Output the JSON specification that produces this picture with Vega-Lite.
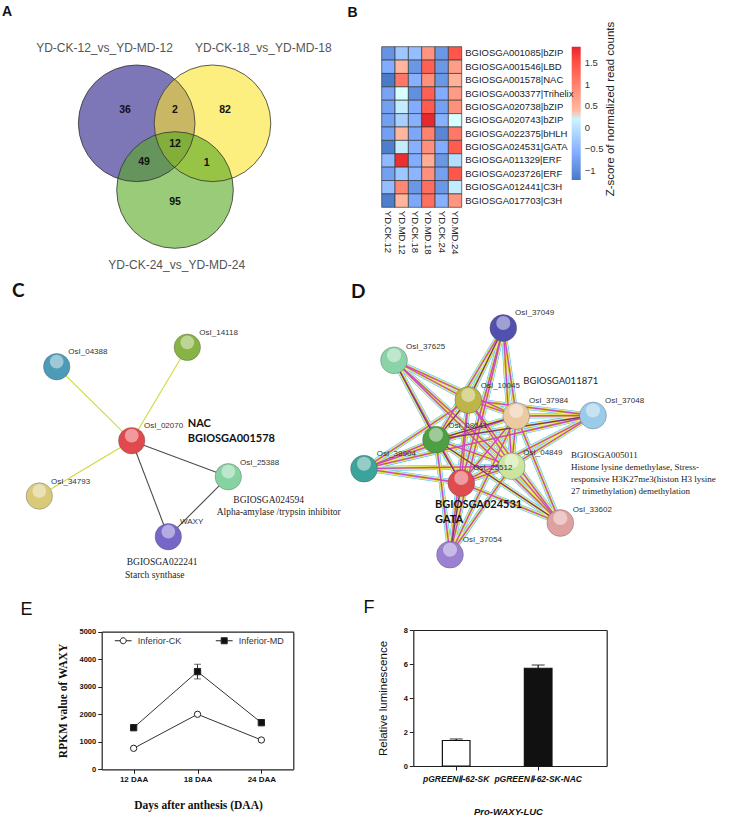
{
"$schema":"https://vega.github.io/schema/vega-lite/v6.json",
"padding":0,
"background":"white",
"bounds":"flush",
"spacing":0,
"columns":2,
"align":"none",
"resolve":{"scale":{"fill":"independent","color":"independent","shape":"independent","x":"independent","y":"independent"}},
"config":{"view":{"stroke":null},"font":"Liberation Sans","axis":{"grid":false,"domainColor":"#222","tickColor":"#222","labelColor":"#111","titleColor":"#111"},"title":{"baseline":"top","anchor":"start","frame":"group","color":"#111"}},
"datasets":{
"venn":[{"set":"YD-CK-12_vs_YD-MD-12","x":136.7,"y":123.3},{"set":"YD-CK-18_vs_YD-MD-18","x":212.5,"y":123.3},{"set":"YD-CK-24_vs_YD-MD-24","x":175,"y":190}],
"vennlabels":[{"label":"YD-CK-12_vs_YD-MD-12","kind":"set","x":104.5,"y":48.3},{"label":"YD-CK-18_vs_YD-MD-18","kind":"set","x":263.3,"y":48.3},{"label":"YD-CK-24_vs_YD-MD-24","kind":"set","x":176.7,"y":265},{"label":"36","kind":"count","x":125,"y":110},{"label":"2","kind":"count","x":175,"y":110},{"label":"82","kind":"count","x":225,"y":110},{"label":"12","kind":"count","x":175,"y":144},{"label":"49","kind":"count","x":144,"y":162.3},{"label":"1","kind":"count","x":206.7,"y":163.3},{"label":"95","kind":"count","x":175,"y":201.7}],
"heat":[
{"gene":"BGIOSGA001085|bZIP","sample":"YD.CK.12","z":-0.9},{"gene":"BGIOSGA001085|bZIP","sample":"YD.MD.12","z":-0.3},{"gene":"BGIOSGA001085|bZIP","sample":"YD.CK.18","z":-0.4},{"gene":"BGIOSGA001085|bZIP","sample":"YD.MD.18","z":0.8},{"gene":"BGIOSGA001085|bZIP","sample":"YD.CK.24","z":-0.85},{"gene":"BGIOSGA001085|bZIP","sample":"YD.MD.24","z":1.45},
{"gene":"BGIOSGA001546|LBD","sample":"YD.CK.12","z":-0.6},{"gene":"BGIOSGA001546|LBD","sample":"YD.MD.12","z":0.45},{"gene":"BGIOSGA001546|LBD","sample":"YD.CK.18","z":-0.85},{"gene":"BGIOSGA001546|LBD","sample":"YD.MD.18","z":1.35},{"gene":"BGIOSGA001546|LBD","sample":"YD.CK.24","z":-0.85},{"gene":"BGIOSGA001546|LBD","sample":"YD.MD.24","z":0.7},
{"gene":"BGIOSGA001578|NAC","sample":"YD.CK.12","z":-1.2},{"gene":"BGIOSGA001578|NAC","sample":"YD.MD.12","z":1.1},{"gene":"BGIOSGA001578|NAC","sample":"YD.CK.18","z":-0.55},{"gene":"BGIOSGA001578|NAC","sample":"YD.MD.18","z":0.85},{"gene":"BGIOSGA001578|NAC","sample":"YD.CK.24","z":-0.85},{"gene":"BGIOSGA001578|NAC","sample":"YD.MD.24","z":0.5},
{"gene":"BGIOSGA003377|Trihelix","sample":"YD.CK.12","z":-0.7},{"gene":"BGIOSGA003377|Trihelix","sample":"YD.MD.12","z":0.32},{"gene":"BGIOSGA003377|Trihelix","sample":"YD.CK.18","z":-0.95},{"gene":"BGIOSGA003377|Trihelix","sample":"YD.MD.18","z":1.35},{"gene":"BGIOSGA003377|Trihelix","sample":"YD.CK.24","z":-0.6},{"gene":"BGIOSGA003377|Trihelix","sample":"YD.MD.24","z":0.75},
{"gene":"BGIOSGA020738|bZIP","sample":"YD.CK.12","z":-0.75},{"gene":"BGIOSGA020738|bZIP","sample":"YD.MD.12","z":0.12},{"gene":"BGIOSGA020738|bZIP","sample":"YD.CK.18","z":-0.6},{"gene":"BGIOSGA020738|bZIP","sample":"YD.MD.18","z":1.4},{"gene":"BGIOSGA020738|bZIP","sample":"YD.CK.24","z":-0.75},{"gene":"BGIOSGA020738|bZIP","sample":"YD.MD.24","z":0.85},
{"gene":"BGIOSGA020743|bZIP","sample":"YD.CK.12","z":-0.75},{"gene":"BGIOSGA020743|bZIP","sample":"YD.MD.12","z":-0.2},{"gene":"BGIOSGA020743|bZIP","sample":"YD.CK.18","z":-0.55},{"gene":"BGIOSGA020743|bZIP","sample":"YD.MD.18","z":1.85},{"gene":"BGIOSGA020743|bZIP","sample":"YD.CK.24","z":-0.55},{"gene":"BGIOSGA020743|bZIP","sample":"YD.MD.24","z":0.32},
{"gene":"BGIOSGA022375|bHLH","sample":"YD.CK.12","z":-0.75},{"gene":"BGIOSGA022375|bHLH","sample":"YD.MD.12","z":0.45},{"gene":"BGIOSGA022375|bHLH","sample":"YD.CK.18","z":-0.65},{"gene":"BGIOSGA022375|bHLH","sample":"YD.MD.18","z":1.0},{"gene":"BGIOSGA022375|bHLH","sample":"YD.CK.24","z":-1.05},{"gene":"BGIOSGA022375|bHLH","sample":"YD.MD.24","z":1.1},
{"gene":"BGIOSGA024531|GATA","sample":"YD.CK.12","z":-1.15},{"gene":"BGIOSGA024531|GATA","sample":"YD.MD.12","z":0.12},{"gene":"BGIOSGA024531|GATA","sample":"YD.CK.18","z":-0.55},{"gene":"BGIOSGA024531|GATA","sample":"YD.MD.18","z":0.85},{"gene":"BGIOSGA024531|GATA","sample":"YD.CK.24","z":-0.6},{"gene":"BGIOSGA024531|GATA","sample":"YD.MD.24","z":1.4},
{"gene":"BGIOSGA011329|ERF","sample":"YD.CK.12","z":-0.45},{"gene":"BGIOSGA011329|ERF","sample":"YD.MD.12","z":1.8},{"gene":"BGIOSGA011329|ERF","sample":"YD.CK.18","z":-0.6},{"gene":"BGIOSGA011329|ERF","sample":"YD.MD.18","z":0.55},{"gene":"BGIOSGA011329|ERF","sample":"YD.CK.24","z":-0.85},{"gene":"BGIOSGA011329|ERF","sample":"YD.MD.24","z":-0.05},
{"gene":"BGIOSGA023726|ERF","sample":"YD.CK.12","z":-0.75},{"gene":"BGIOSGA023726|ERF","sample":"YD.MD.12","z":-0.3},{"gene":"BGIOSGA023726|ERF","sample":"YD.CK.18","z":-0.5},{"gene":"BGIOSGA023726|ERF","sample":"YD.MD.18","z":0.85},{"gene":"BGIOSGA023726|ERF","sample":"YD.CK.24","z":-0.75},{"gene":"BGIOSGA023726|ERF","sample":"YD.MD.24","z":1.45},
{"gene":"BGIOSGA012441|C3H","sample":"YD.CK.12","z":-0.4},{"gene":"BGIOSGA012441|C3H","sample":"YD.MD.12","z":0.95},{"gene":"BGIOSGA012441|C3H","sample":"YD.CK.18","z":-0.85},{"gene":"BGIOSGA012441|C3H","sample":"YD.MD.18","z":1.2},{"gene":"BGIOSGA012441|C3H","sample":"YD.CK.24","z":-0.85},{"gene":"BGIOSGA012441|C3H","sample":"YD.MD.24","z":0.1},
{"gene":"BGIOSGA017703|C3H","sample":"YD.CK.12","z":-1.15},{"gene":"BGIOSGA017703|C3H","sample":"YD.MD.12","z":0.45},{"gene":"BGIOSGA017703|C3H","sample":"YD.CK.18","z":-0.65},{"gene":"BGIOSGA017703|C3H","sample":"YD.MD.18","z":1.2},{"gene":"BGIOSGA017703|C3H","sample":"YD.CK.24","z":-0.55},{"gene":"BGIOSGA017703|C3H","sample":"YD.MD.24","z":0.8}
],
"cnodes":[{"node":"OsI_04388","x":56.7,"y":88.7},{"node":"OsI_14118","x":187.3,"y":69.3},{"node":"OsI_02070","x":131.7,"y":162.7},{"node":"OsI_34793","x":39.3,"y":218},{"node":"OsI_25388","x":228.3,"y":198.7},{"node":"WAXY","x":168.3,"y":258.7}],
"cedges":[{"source":"OsI_04388","target":"OsI_02070","evidence":"textmining"},{"source":"OsI_14118","target":"OsI_02070","evidence":"textmining"},{"source":"OsI_34793","target":"OsI_02070","evidence":"textmining"},{"source":"OsI_02070","target":"OsI_25388","evidence":"coexpression"},{"source":"OsI_02070","target":"WAXY","evidence":"coexpression"},{"source":"OsI_25388","target":"WAXY","evidence":"coexpression"}],
"clabels":[{"text":"OsI_04388","kind":"node","x":68.3,"y":73.7},{"text":"OsI_14118","kind":"node","x":199.3,"y":55.3},{"text":"OsI_02070","kind":"node","x":144,"y":147.7},{"text":"OsI_25388","kind":"node","x":240,"y":185.3},{"text":"OsI_34793","kind":"node","x":51,"y":204.3},{"text":"WAXY","kind":"node","x":180,"y":244.3},{"text":"NAC","kind":"bold","x":187.7,"y":146},{"text":"BGIOSGA001578","kind":"bold","x":187.7,"y":161},{"text":"BGIOSGA024594","kind":"serif","x":233.3,"y":222},{"text":"Alpha-amylase /trypsin inhibitor","kind":"serif","x":216.7,"y":233.7},{"text":"BGIOSGA022241","kind":"serif","x":126.7,"y":284.3},{"text":"Starch synthase","kind":"serif","x":125,"y":296.5}],
"dnodes":[{"node":"OsI_37049","x":163.3,"y":50},{"node":"OsI_37625","x":54,"y":82.3},{"node":"OsI_10045","x":128.3,"y":122},{"node":"OsI_37984","x":176.3,"y":138},{"node":"OsI_37048","x":253,"y":137.5},{"node":"OsI_08641","x":96,"y":161.7},{"node":"OsI_38904","x":24,"y":190.7},{"node":"OsI_04849","x":171.7,"y":188.2},{"node":"OsI_25512","x":121.3,"y":205},{"node":"OsI_33602","x":220.3,"y":245},{"node":"OsI_37054","x":110,"y":276.7}],
"dedges":[
{"source":"OsI_10045","target":"OsI_37984","coexp":false},{"source":"OsI_10045","target":"OsI_08641","coexp":true},{"source":"OsI_10045","target":"OsI_04849","coexp":false},{"source":"OsI_10045","target":"OsI_25512","coexp":false},{"source":"OsI_37984","target":"OsI_08641","coexp":true},{"source":"OsI_37984","target":"OsI_04849","coexp":false},{"source":"OsI_37984","target":"OsI_25512","coexp":false},{"source":"OsI_08641","target":"OsI_04849","coexp":false},{"source":"OsI_08641","target":"OsI_25512","coexp":true},{"source":"OsI_04849","target":"OsI_25512","coexp":false},
{"source":"OsI_37049","target":"OsI_10045","coexp":true},{"source":"OsI_37049","target":"OsI_37984","coexp":false},{"source":"OsI_37049","target":"OsI_08641","coexp":false},{"source":"OsI_37049","target":"OsI_04849","coexp":false},{"source":"OsI_37049","target":"OsI_25512","coexp":false},
{"source":"OsI_37625","target":"OsI_10045","coexp":false},{"source":"OsI_37625","target":"OsI_37984","coexp":false},{"source":"OsI_37625","target":"OsI_08641","coexp":true},{"source":"OsI_37625","target":"OsI_04849","coexp":false},{"source":"OsI_37625","target":"OsI_25512","coexp":false},
{"source":"OsI_37048","target":"OsI_10045","coexp":false},{"source":"OsI_37048","target":"OsI_37984","coexp":false},{"source":"OsI_37048","target":"OsI_08641","coexp":true},{"source":"OsI_37048","target":"OsI_04849","coexp":false},{"source":"OsI_37048","target":"OsI_25512","coexp":false},
{"source":"OsI_38904","target":"OsI_10045","coexp":false},{"source":"OsI_38904","target":"OsI_37984","coexp":false},{"source":"OsI_38904","target":"OsI_08641","coexp":false},{"source":"OsI_38904","target":"OsI_04849","coexp":false},{"source":"OsI_38904","target":"OsI_25512","coexp":false},
{"source":"OsI_33602","target":"OsI_10045","coexp":false},{"source":"OsI_33602","target":"OsI_37984","coexp":false},{"source":"OsI_33602","target":"OsI_08641","coexp":true},{"source":"OsI_33602","target":"OsI_04849","coexp":false},{"source":"OsI_33602","target":"OsI_25512","coexp":false},
{"source":"OsI_37054","target":"OsI_10045","coexp":false},{"source":"OsI_37054","target":"OsI_37984","coexp":false},{"source":"OsI_37054","target":"OsI_08641","coexp":false},{"source":"OsI_37054","target":"OsI_04849","coexp":false},{"source":"OsI_37054","target":"OsI_25512","coexp":true},
{"source":"OsI_37625","target":"OsI_33602","coexp":false},{"source":"OsI_37049","target":"OsI_37054","coexp":false},{"source":"OsI_38904","target":"OsI_37048","coexp":false}
],
"dlabels":[{"text":"OsI_37049","kind":"node","x":175,"y":34.7},{"text":"OsI_37625","kind":"node","x":66,"y":68.7},{"text":"OsI_10045","kind":"node","x":140.7,"y":107.7},{"text":"OsI_37984","kind":"node","x":189,"y":123},{"text":"OsI_37048","kind":"node","x":265,"y":123},{"text":"OsI_08641","kind":"node","x":108.3,"y":147.7},{"text":"OsI_38904","kind":"node","x":36.7,"y":176.3},{"text":"OsI_04849","kind":"node","x":183.3,"y":175.3},{"text":"OsI_25512","kind":"node","x":133.3,"y":190.3},{"text":"OsI_33602","kind":"node","x":232.7,"y":232},{"text":"OsI_37054","kind":"node","x":122.7,"y":262},{"text":"BGIOSGA011871","kind":"plain","x":183.3,"y":102.7},{"text":"BGIOSGA024531","kind":"bold","x":95,"y":227},{"text":"GATA","kind":"bold","x":95,"y":242},{"text":"BGIOSGA005011","kind":"serif","x":231,"y":177},{"text":"Histone lysine demethylase, Stress-","kind":"serif","x":231,"y":189},{"text":"responsive H3K27me3(histon H3  lysine","kind":"serif","x":231,"y":201},{"text":"27 trimethylation) demethylation","kind":"serif","x":231,"y":213}],
"edata":[{"series":"Inferior-CK","day":"12 DAA","value":763},{"series":"Inferior-CK","day":"18 DAA","value":1999},{"series":"Inferior-CK","day":"24 DAA","value":1065},{"series":"Inferior-MD","day":"12 DAA","value":1512},{"series":"Inferior-MD","day":"18 DAA","value":3550,"lo":3283,"hi":3817},{"series":"Inferior-MD","day":"24 DAA","value":1694}],
"fdata":[{"construct":"pGREENⅡ-62-SK","value":1.5,"hi":1.59},{"construct":"pGREENⅡ-62-SK-NAC","value":5.75,"hi":5.94}]
},
"concat":[
{"width":360,"height":278,
 "title":{"text":"A","offset":-19,"dx":2,"fontSize":14,"fontWeight":"bold"},
 "layer":[
  {"data":{"name":"venn"},"mark":{"type":"point","filled":true,"size":13600,"opacity":0.6,"strokeWidth":0},
   "encoding":{"x":{"field":"x","type":"quantitative","scale":{"domain":[0,360],"nice":false,"zero":false},"axis":null},
    "y":{"field":"y","type":"quantitative","scale":{"domain":[0,278],"nice":false,"zero":false,"reverse":true},"axis":null},
    "color":{"field":"set","type":"nominal","scale":{"domain":["YD-CK-12_vs_YD-MD-12","YD-CK-18_vs_YD-MD-18","YD-CK-24_vs_YD-MD-24"],"range":["#261B87","#FCE32B","#55A820"]},"legend":null}}},
  {"data":{"name":"venn"},"mark":{"type":"point","filled":false,"size":13600,"opacity":1,"color":"#333333","strokeWidth":0.8},
   "encoding":{"x":{"field":"x","type":"quantitative","axis":null},"y":{"field":"y","type":"quantitative","axis":null}}},
  {"data":{"name":"vennlabels"},"transform":[{"filter":"datum.kind == 'set'"}],"mark":{"type":"text","fontSize":12,"color":"#555555","baseline":"middle","font":"Liberation Sans"},
   "encoding":{"x":{"field":"x","type":"quantitative","axis":null},"y":{"field":"y","type":"quantitative","axis":null},"text":{"field":"label"}}},
  {"data":{"name":"vennlabels"},"transform":[{"filter":"datum.kind == 'count'"}],"mark":{"type":"text","fontSize":10.5,"fontWeight":"bold","color":"#111111","baseline":"middle"},
   "encoding":{"x":{"field":"x","type":"quantitative","axis":null},"y":{"field":"y","type":"quantitative","axis":null},"text":{"field":"label"}}}
 ]},
{"width":369,"height":278,
 "title":{"text":"B","offset":-20,"dx":-12.5,"fontSize":14,"fontWeight":"bold"},
 "data":{"name":"heat"},
 "mark":{"type":"rect","stroke":"#3a3a3a","strokeWidth":0.7},
 "encoding":{
  "x":{"field":"sample","type":"nominal","sort":["YD.CK.12","YD.MD.12","YD.CK.18","YD.MD.18","YD.CK.24","YD.MD.24"],"scale":{"range":[21.7,101.7],"paddingInner":0,"paddingOuter":0},
   "axis":{"orient":"bottom","offset":-70.7,"labelAngle":90,"ticks":false,"domain":false,"labelPadding":3,"labelFontSize":9.5,"labelColor":"#222","title":null}},
  "y":{"field":"gene","type":"nominal","sort":["BGIOSGA001085|bZIP","BGIOSGA001546|LBD","BGIOSGA001578|NAC","BGIOSGA003377|Trihelix","BGIOSGA020738|bZIP","BGIOSGA020743|bZIP","BGIOSGA022375|bHLH","BGIOSGA024531|GATA","BGIOSGA011329|ERF","BGIOSGA023726|ERF","BGIOSGA012441|C3H","BGIOSGA017703|C3H"],"scale":{"range":[46.7,207.3],"paddingInner":0,"paddingOuter":0},
   "axis":{"orient":"right","offset":-267.3,"ticks":false,"domain":false,"labelPadding":3,"labelFontSize":9.5,"labelColor":"#222",
    "title":"Z-score of normalized read counts","titleX":148.3,"titleY":108.5,"titleAngle":270,"titleBaseline":"middle","titleAlign":"center","titleFontSize":11.5,"titleFontWeight":"normal","titleColor":"#222","titleFont":"Liberation Sans"}},
  "color":{"field":"z","type":"quantitative","scale":{"domain":[-1.216,0.335,1.886],"range":["#4979C6","#FFFFFF","#E1252B"]},
   "legend":{"type":"gradient","orient":"none","legendX":211.7,"legendY":46.7,"direction":"vertical","gradientLength":133.3,"gradientThickness":9,"gradientStrokeWidth":0,"values":[-1,-0.5,0,0.5,1,1.5],"format":".1~f","labelFontSize":9.5,"labelColor":"#333","labelOffset":4,"title":null}}
 }},
{"width":360,"height":297,
 "title":{"text":"C","offset":-22.6,"dx":12,"fontSize":19,"fontWeight":"bold","font":"Lato"},
 "layer":[
  {"data":{"name":"cedges"},"transform":[{"lookup":"source","from":{"data":{"name":"cnodes"},"key":"node","fields":["x","y"]},"as":["x","y"]},{"lookup":"target","from":{"data":{"name":"cnodes"},"key":"node","fields":["x","y"]},"as":["x2","y2"]}],
   "mark":{"type":"rule","strokeWidth":1.1},
   "encoding":{"x":{"field":"x","type":"quantitative","scale":{"domain":[0,360],"nice":false,"zero":false},"axis":null},"y":{"field":"y","type":"quantitative","scale":{"domain":[0,297],"nice":false,"zero":false,"reverse":true},"axis":null},"x2":{"field":"x2"},"y2":{"field":"y2"},
    "color":{"field":"evidence","type":"nominal","scale":{"domain":["textmining","coexpression"],"range":["#D2D83A","#4d4d4d"]},"legend":null}}},
  {"data":{"name":"cnodes"},"mark":{"type":"point","filled":true,"size":700,"opacity":1,"stroke":"#555555","strokeWidth":0.6,"strokeOpacity":0.6},
   "encoding":{"x":{"field":"x","type":"quantitative","axis":null},"y":{"field":"y","type":"quantitative","axis":null},
    "fill":{"field":"node","type":"nominal","scale":{"domain":["OsI_04388","OsI_14118","OsI_02070","OsI_34793","OsI_25388","WAXY"],"range":["#4C9CB8","#86B343","#E2494E","#D9CA7A","#86D3A2","#7666C8"]},"legend":null}}},
  {"data":{"name":"cnodes"},"mark":{"type":"point","filled":true,"size":190,"color":"#ffffff","opacity":0.45,"yOffset":-5,"strokeWidth":0},
   "encoding":{"x":{"field":"x","type":"quantitative","axis":null},"y":{"field":"y","type":"quantitative","axis":null}}},
  {"data":{"name":"clabels"},"transform":[{"filter":"datum.kind == 'node'"}],"mark":{"type":"text","align":"left","baseline":"middle","fontSize":8,"color":"#333","font":"Liberation Sans"},
   "encoding":{"x":{"field":"x","type":"quantitative","axis":null},"y":{"field":"y","type":"quantitative","axis":null},"text":{"field":"text"}}},
  {"data":{"name":"clabels"},"transform":[{"filter":"datum.kind == 'bold'"}],"mark":{"type":"text","align":"left","baseline":"middle","fontSize":11,"fontWeight":"bold","color":"#111","font":"Lato"},
   "encoding":{"x":{"field":"x","type":"quantitative","axis":null},"y":{"field":"y","type":"quantitative","axis":null},"text":{"field":"text"}}},
  {"data":{"name":"clabels"},"transform":[{"filter":"datum.kind == 'serif'"}],"mark":{"type":"text","align":"left","baseline":"middle","fontSize":9.5,"color":"#222","font":"Liberation Serif"},
   "encoding":{"x":{"field":"x","type":"quantitative","axis":null},"y":{"field":"y","type":"quantitative","axis":null},"text":{"field":"text"}}}
 ]},
{"width":369,"height":297,
 "title":{"text":"D","offset":-23.6,"dx":-9,"fontSize":19,"fontWeight":"bold","font":"Lato"},
 "layer":[
  {"data":{"name":"dedges"},"transform":[{"lookup":"source","from":{"data":{"name":"dnodes"},"key":"node","fields":["x","y"]},"as":["x","y"]},{"lookup":"target","from":{"data":{"name":"dnodes"},"key":"node","fields":["x","y"]},"as":["x2","y2"]}],
   "mark":{"type":"rule","color":"#3DBDE8","strokeWidth":5.0},
   "encoding":{"x":{"field":"x","type":"quantitative","scale":{"domain":[20,389],"nice":false,"zero":false},"axis":null},"y":{"field":"y","type":"quantitative","scale":{"domain":[0,297],"nice":false,"zero":false,"reverse":true},"axis":null},"x2":{"field":"x2"},"y2":{"field":"y2"}}},
  {"data":{"name":"dedges"},"transform":[{"lookup":"source","from":{"data":{"name":"dnodes"},"key":"node","fields":["x","y"]},"as":["x","y"]},{"lookup":"target","from":{"data":{"name":"dnodes"},"key":"node","fields":["x","y"]},"as":["x2","y2"]}],
   "mark":{"type":"rule","color":"#ffffff","strokeWidth":3.9,"opacity":0.85},
   "encoding":{"x":{"field":"x","type":"quantitative","axis":null},"y":{"field":"y","type":"quantitative","axis":null},"x2":{"field":"x2"},"y2":{"field":"y2"}}},
  {"data":{"name":"dedges"},"transform":[{"lookup":"source","from":{"data":{"name":"dnodes"},"key":"node","fields":["x","y"]},"as":["x","y"]},{"lookup":"target","from":{"data":{"name":"dnodes"},"key":"node","fields":["x","y"]},"as":["x2","y2"]}],
   "mark":{"type":"rule","color":"#E0E02A","strokeWidth":2.9},
   "encoding":{"x":{"field":"x","type":"quantitative","axis":null},"y":{"field":"y","type":"quantitative","axis":null},"x2":{"field":"x2"},"y2":{"field":"y2"}}},
  {"data":{"name":"dedges"},"transform":[{"lookup":"source","from":{"data":{"name":"dnodes"},"key":"node","fields":["x","y"]},"as":["x","y"]},{"lookup":"target","from":{"data":{"name":"dnodes"},"key":"node","fields":["x","y"]},"as":["x2","y2"]}],
   "mark":{"type":"rule","color":"#C846C8","strokeWidth":1.3},
   "encoding":{"x":{"field":"x","type":"quantitative","axis":null},"y":{"field":"y","type":"quantitative","axis":null},"x2":{"field":"x2"},"y2":{"field":"y2"}}},
  {"data":{"name":"dedges"},"transform":[{"filter":"datum.coexp"},{"lookup":"source","from":{"data":{"name":"dnodes"},"key":"node","fields":["x","y"]},"as":["x","y"]},{"lookup":"target","from":{"data":{"name":"dnodes"},"key":"node","fields":["x","y"]},"as":["x2","y2"]}],
   "mark":{"type":"rule","color":"#333333","strokeWidth":0.7},
   "encoding":{"x":{"field":"x","type":"quantitative","axis":null},"y":{"field":"y","type":"quantitative","axis":null},"x2":{"field":"x2"},"y2":{"field":"y2"}}},
  {"data":{"name":"dnodes"},"mark":{"type":"point","filled":true,"size":720,"opacity":1,"stroke":"#555555","strokeWidth":0.6,"strokeOpacity":0.6},
   "encoding":{"x":{"field":"x","type":"quantitative","axis":null},"y":{"field":"y","type":"quantitative","axis":null},
    "fill":{"field":"node","type":"nominal","scale":{"domain":["OsI_37049","OsI_37625","OsI_10045","OsI_37984","OsI_37048","OsI_08641","OsI_38904","OsI_04849","OsI_25512","OsI_33602","OsI_37054"],"range":["#5150AE","#89D3A7","#BDB547","#EBC9A1","#9ACCEA","#4E9F44","#3CA39B","#CBE5A1","#E04B50","#DFA0A0","#9C81D3"]},"legend":null}}},
  {"data":{"name":"dnodes"},"mark":{"type":"point","filled":true,"size":200,"color":"#ffffff","opacity":0.45,"yOffset":-5,"strokeWidth":0},
   "encoding":{"x":{"field":"x","type":"quantitative","axis":null},"y":{"field":"y","type":"quantitative","axis":null}}},
  {"data":{"name":"dlabels"},"transform":[{"filter":"datum.kind == 'node'"}],"mark":{"type":"text","align":"left","baseline":"middle","fontSize":8,"color":"#333","font":"Liberation Sans"},
   "encoding":{"x":{"field":"x","type":"quantitative","axis":null},"y":{"field":"y","type":"quantitative","axis":null},"text":{"field":"text"}}},
  {"data":{"name":"dlabels"},"transform":[{"filter":"datum.kind == 'plain'"}],"mark":{"type":"text","align":"left","baseline":"middle","fontSize":9.5,"color":"#222","font":"Lato"},
   "encoding":{"x":{"field":"x","type":"quantitative","axis":null},"y":{"field":"y","type":"quantitative","axis":null},"text":{"field":"text"}}},
  {"data":{"name":"dlabels"},"transform":[{"filter":"datum.kind == 'bold'"}],"mark":{"type":"text","align":"left","baseline":"middle","fontSize":11,"fontWeight":"bold","color":"#111","font":"Lato"},
   "encoding":{"x":{"field":"x","type":"quantitative","axis":null},"y":{"field":"y","type":"quantitative","axis":null},"text":{"field":"text"}}},
  {"data":{"name":"dlabels"},"transform":[{"filter":"datum.kind == 'serif'"}],"mark":{"type":"text","align":"left","baseline":"middle","fontSize":9,"color":"#222","font":"Liberation Serif"},
   "encoding":{"x":{"field":"x","type":"quantitative","axis":null},"y":{"field":"y","type":"quantitative","axis":null},"text":{"field":"text"}}}
 ]},
{"width":360,"height":241,
 "title":{"text":"E","offset":-43.7,"dx":20.5,"fontSize":18,"fontWeight":"normal"},
 "data":{"name":"edata"},
 "resolve":{"scale":{"shape":"independent","fill":"independent"},"axis":{"x":"independent","y":"independent"}},
 "layer":[
  {"mark":{"type":"line","color":"#333333","strokeWidth":1},
   "encoding":{"x":{"field":"day","type":"ordinal","scale":{"type":"point","range":[101.7,293.3],"padding":0.5},
     "axis":{"orient":"bottom","offset":-46.7,"title":"Days after anthesis (DAA)","titleFont":"Liberation Serif","titleFontSize":11.5,"titleFontWeight":"bold","titleX":198,"titleY":35.7,"titleBaseline":"middle","titleAlign":"center","labelFont":"Liberation Sans","labelFontSize":8,"labelFontWeight":"bold","labelAngle":0,"tickSize":4,"labelPadding":2,"domainWidth":1.2}},
    "y":{"field":"value","type":"quantitative","scale":{"domain":[0,5000],"range":[194.3,56.7],"nice":false,"zero":true},
     "axis":{"orient":"left","offset":-101.7,"values":[0,1000,2000,3000,4000,5000],"format":"d","title":"RPKM value of WAXY","titleFont":"Liberation Serif","titleFontSize":11.5,"titleFontWeight":"bold","titleX":-38.4,"titleY":125.5,"titleAngle":270,"titleBaseline":"middle","titleAlign":"center","labelFont":"Liberation Sans Narrow, Liberation Sans","labelFontSize":7.5,"labelFontWeight":"bold","tickSize":4,"labelPadding":2,"domainWidth":1.2}},
    "detail":{"field":"series"}}},
  {"transform":[{"filter":"isValid(datum.hi)"}],"mark":{"type":"rule","color":"#333333","strokeWidth":1},
   "encoding":{"x":{"field":"day","type":"ordinal","axis":{"orient":"top","offset":-56.7,"labels":false,"ticks":false,"title":null,"domainWidth":1.2}},
    "y":{"field":"lo","type":"quantitative","axis":{"orient":"right","offset":-66.7,"labels":false,"ticks":false,"title":null,"domainWidth":1.2}},"y2":{"field":"hi"}}},
  {"transform":[{"filter":"isValid(datum.hi)"}],"mark":{"type":"tick","color":"#333333","size":7,"thickness":1},
   "encoding":{"x":{"field":"day","type":"ordinal","axis":null},"y":{"field":"hi","type":"quantitative","axis":null}}},
  {"transform":[{"filter":"isValid(datum.lo)"}],"mark":{"type":"tick","color":"#333333","size":7,"thickness":1},
   "encoding":{"x":{"field":"day","type":"ordinal","axis":null},"y":{"field":"lo","type":"quantitative","axis":null}}},
  {"mark":{"type":"point","filled":true,"opacity":1,"size":40,"stroke":"#222222","strokeWidth":1},
   "encoding":{"x":{"field":"day","type":"ordinal","axis":null},"y":{"field":"value","type":"quantitative","axis":null},
    "shape":{"field":"series","type":"nominal","scale":{"domain":["Inferior-CK","Inferior-MD"],"range":["circle","square"]},"legend":null},
    "fill":{"field":"series","type":"nominal","scale":{"domain":["Inferior-CK","Inferior-MD"],"range":["#ffffff","#111111"]},"legend":null}}},
  {"transform":[{"filter":"false"}],"mark":{"type":"point","filled":true,"opacity":1,"size":36,"stroke":"#222222","strokeWidth":1},
   "encoding":{"x":{"field":"day","type":"ordinal","axis":null},"y":{"field":"value","type":"quantitative","axis":null},
    "shape":{"field":"series","type":"nominal","scale":{"domain":["Inferior-CK","Inferior-MD"],"range":["M-2.8,0L-1,0M1,0L2.8,0M-1,0A1,1,0,1,0,1,0A1,1,0,1,0,-1,0Z","M-2.8,0L-1,0M1,0L2.8,0M-1,-1L1,-1L1,1L-1,1Z"]},
     "legend":{"orient":"none","legendX":118.7,"legendY":61,"direction":"horizontal","title":null,"symbolSize":36,"symbolStrokeColor":"#222","symbolStrokeWidth":1,"symbolOpacity":1,"labelFontSize":9,"labelFont":"Liberation Sans","labelColor":"#333","labelOffset":10,"columnPadding":32,"padding":0,
      "encode":{"symbols":{"update":{"stroke":{"value":"#222222"},"strokeWidth":{"value":1},"strokeOpacity":{"value":1},"opacity":{"value":1}}}}}},
    "fill":{"field":"series","type":"nominal","scale":{"domain":["Inferior-CK","Inferior-MD"],"range":["#ffffff","#111111"]},
     "legend":{"orient":"none","legendX":118.7,"legendY":61,"direction":"horizontal","title":null,"symbolSize":36,"symbolStrokeColor":"#222","symbolStrokeWidth":1,"symbolOpacity":1,"labelFontSize":9,"labelFont":"Liberation Sans","labelColor":"#333","labelOffset":10,"columnPadding":32,"padding":0,
      "encode":{"symbols":{"update":{"stroke":{"value":"#222222"},"strokeWidth":{"value":1},"strokeOpacity":{"value":1},"opacity":{"value":1}}}}}}}}
 ]},
{"width":369,"height":241,
 "title":{"text":"F","offset":-41.7,"dx":3.5,"fontSize":18,"fontWeight":"normal"},
 "data":{"name":"fdata"},
 "resolve":{"axis":{"x":"independent","y":"independent"}},
 "layer":[
  {"mark":{"type":"bar","stroke":"#111111","strokeWidth":1.2},
   "encoding":{"x":{"field":"construct","type":"nominal","sort":null,"scale":{"range":[53.3,246.7],"paddingInner":0.663,"paddingOuter":0.511,"align":0.347},
     "axis":{"orient":"bottom","offset":-50,"title":"Pro-WAXY-LUC","titleFont":"Liberation Sans","titleFontSize":9.5,"titleFontWeight":"bold","titleFontStyle":"italic","titleX":148,"titleY":45,"titleBaseline":"middle","titleAlign":"center","labelFont":"Liberation Sans","labelFontSize":8.5,"labelFontWeight":"bold","labelFontStyle":"italic","labelAngle":0,"tickSize":4,"labelPadding":4.5,"domainWidth":1.2}},
    "y":{"field":"value","type":"quantitative","scale":{"domain":[0,8],"range":[191,55],"nice":false,"zero":true},
     "axis":{"orient":"left","offset":-53.3,"values":[0,2,4,6,8],"title":"Relative luminescence","titleFont":"Liberation Sans","titleFontSize":11.5,"titleFontWeight":"normal","titleX":-30,"titleY":123,"titleAngle":270,"titleBaseline":"middle","titleAlign":"center","labelFont":"Liberation Sans","labelFontSize":7.5,"labelFontWeight":"bold","tickSize":4,"labelPadding":2,"domainWidth":1.2}},
    "fill":{"field":"construct","type":"nominal","scale":{"domain":["pGREENⅡ-62-SK","pGREENⅡ-62-SK-NAC"],"range":["#ffffff","#111111"]},"legend":null}}},
  {"mark":{"type":"rule","color":"#111111","strokeWidth":1.2},
   "encoding":{"x":{"field":"construct","type":"nominal","sort":null,"axis":{"orient":"top","offset":-55,"labels":false,"ticks":false,"title":null,"domainWidth":1.2}},
    "y":{"field":"value","type":"quantitative","axis":{"orient":"right","offset":-122.3,"labels":false,"ticks":false,"title":null,"domainWidth":1.2}},"y2":{"field":"hi"}}},
  {"mark":{"type":"tick","color":"#111111","size":13,"thickness":1.2},
   "encoding":{"x":{"field":"construct","type":"nominal","sort":null,"axis":null},"y":{"field":"hi","type":"quantitative","axis":null}}}
 ]}
]
}
